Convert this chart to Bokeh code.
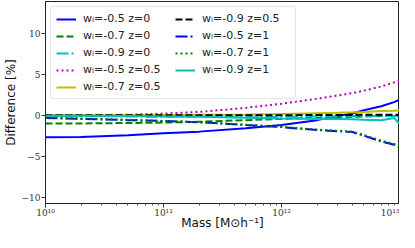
from bokeh.plotting import figure
from bokeh.models import Legend, LegendItem, CustomJSTickFormatter, Range1d, FixedTicker
from bokeh.embed import file_html
from bokeh.resources import INLINE

masses = [1e10, 2e10, 5e10, 1e11, 2e11, 5e11, 1e12, 2e12, 3e12, 4e12, 5e12, 7e12, 9e12, 1e13]

d_w05_z0 = [-2.7, -2.65, -2.45, -2.2, -2.0, -1.6, -1.2, -0.6, -0.1, 0.2, 0.6, 1.1, 1.6, 1.9]
d_w07_z0 = [-1.0, -1.0, -0.95, -0.9, -0.8, -0.6, -0.45, -0.3, -0.25, -0.2, -0.15, -0.1, -0.05, -0.05]
d_w09_z0 = [-0.1, -0.1, -0.15, -0.2, -0.2, -0.25, -0.2, -0.15, -0.15, -0.1, -0.1, -0.1, -0.1, -0.1]
d_w05_z05 = [0.0, 0.0, 0.05, 0.2, 0.4, 0.9, 1.4, 2.0, 2.4, 2.7, 3.0, 3.5, 4.0, 4.2]
d_w07_z05 = [0.0, 0.0, 0.0, 0.02, 0.05, 0.1, 0.15, 0.25, 0.3, 0.35, 0.4, 0.5, 0.55, 0.6]
d_w09_z05 = [0.0, 0.0, 0.0, 0.0, 0.0, 0.0, 0.0, 0.02, 0.03, 0.04, 0.05, 0.05, 0.05, 0.05]
d_w05_z1 = [-0.35, -0.45, -0.6, -0.7, -0.85, -1.2, -1.45, -1.8, -1.95, -2.05, -2.5, -3.2, -3.6, -3.9]
d_w07_z1 = [-0.3, -0.4, -0.55, -0.7, -0.85, -1.15, -1.4, -1.75, -1.9, -2.0, -2.4, -3.1, -3.5, -3.8]
d_w09_z1 = [-0.05, -0.05, -0.1, -0.15, -0.2, -0.3, -0.4, -0.45, -0.45, -0.5, -0.55, -0.6, -0.35, -1.05]

labels = ["wᵢ=-0.5 z=0", "wᵢ=-0.7 z=0", "wᵢ=-0.9 z=0", "wᵢ=-0.5 z=0.5", "wᵢ=-0.7 z=0.5",
          "wᵢ=-0.9 z=0.5", "wᵢ=-0.5 z=1", "wᵢ=-0.7 z=1", "wᵢ=-0.9 z=1"]
y_ticks = [-10, -5, 0, 5, 10]
x_ticks = [1e10, 1e11, 1e12, 1e13]

series = [d_w05_z0, d_w07_z0, d_w09_z0, d_w05_z05, d_w07_z05, d_w09_z05, d_w05_z1, d_w07_z1, d_w09_z1]
colors = ["#0000ff", "#008000", "#00bfbf", "#bf00bf", "#bfbf00", "#000000", "#0000ff", "#008000", "#00bfbf"]
dashes = ["solid", "7 3", "12 3 2 3", "2 3", "solid", "7 3", "12 3 2 3", "2 3", "solid"]

p = figure(width=399, height=232, x_axis_type="log",
           x_range=Range1d(1e10, 1e13), y_range=Range1d(-10.76, 13.86),
           output_backend="svg", toolbar_location=None,
           min_border_left=38, min_border_right=0, min_border_top=1, min_border_bottom=0)
p.grid.visible = False
p.outline_line_color = "#222222"
p.outline_line_width = 1

items = []
for lab, ys, c, d in zip(labels, series, colors, dashes):
    r = p.line(masses, ys, line_color=c, line_width=2, line_dash=d)
    items.append(LegendItem(label=lab, renderers=[r]))

legend = Legend(items=items, location="top_left", nrows=5, orientation="vertical")
legend.label_text_font = "DejaVu Sans"
legend.label_text_font_size = "11px"
legend.label_text_color = "#222222"
legend.glyph_width = 20
legend.glyph_height = 12
legend.label_height = 12
legend.label_width = 88
legend.label_standoff = 7
legend.spacing = 4
legend.padding = 5
legend.margin = 5
legend.border_line_color = "#cccccc"
legend.border_line_width = 1
legend.border_radius = 3
legend.background_fill_alpha = 0.85
p.add_layout(legend)

sup = CustomJSTickFormatter(code="""
const m = {'0':'⁰','1':'¹','2':'²','3':'³','4':'⁴','5':'⁵','6':'⁶','7':'⁷','8':'⁸','9':'⁹','-':'⁻'};
const e = Math.round(Math.log10(tick)).toString();
return '10' + e.split('').map(c => m[c]).join('');
""")
p.xaxis.formatter = sup
p.xaxis.ticker = FixedTicker(ticks=x_ticks, minor_ticks=[k * 10**e for e in (10, 11, 12) for k in range(2, 10)])
p.yaxis.ticker = FixedTicker(ticks=y_ticks)
p.yaxis.formatter = CustomJSTickFormatter(code="return tick < 0 ? '\u2212' + Math.abs(tick) : '' + tick;")

for ax in (p.xaxis[0], p.yaxis[0]):
    ax.major_label_text_font = "DejaVu Serif"
    ax.major_label_text_font_size = "9px"
    ax.major_label_text_color = "#333333"
    ax.axis_line_color = "#222222"
    ax.major_tick_out = 4
    ax.major_tick_in = 0
    ax.minor_tick_out = 2
    ax.minor_tick_in = 0
    ax.major_tick_line_color = "#333333"
    ax.minor_tick_line_color = "#555555"
    ax.axis_label_text_font = "DejaVu Sans"
    ax.axis_label_text_font_size = "12px"
    ax.axis_label_text_font_style = "normal"
    ax.axis_label_text_color = "#111111"
    ax.axis_label_standoff = 1
    ax.major_label_standoff = 1

p.xaxis.axis_label_standoff = -5
p.xaxis.major_label_standoff = 0
p.yaxis.minor_tick_line_color = None
p.xaxis.axis_label = "Mass [M⊙h⁻¹]"
p.yaxis.axis_label = "Difference [%]"

open("out.html", "w").write(file_html(p, INLINE))
